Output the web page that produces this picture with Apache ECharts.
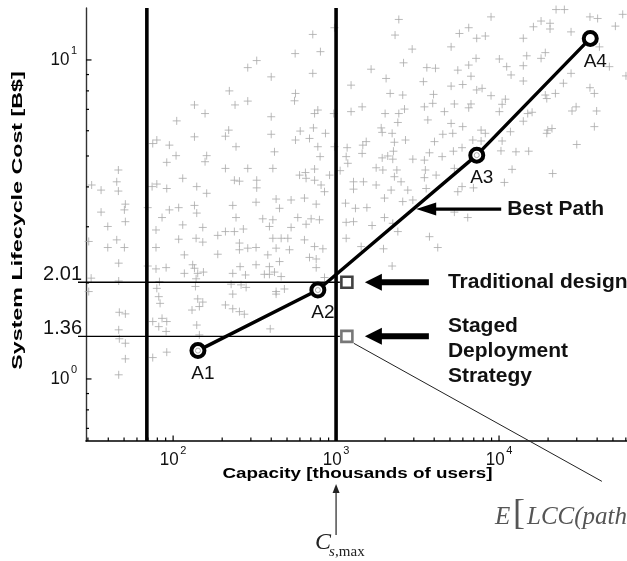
<!DOCTYPE html>
<html><head><meta charset="utf-8">
<script src="https://cdn.jsdelivr.net/npm/echarts@6/dist/echarts.min.js"></script>
<style>html,body{margin:0;padding:0;background:#fff;}#c{width:627px;height:561px;}</style>
</head><body><div id="c"></div>
<script>
// ---------------- data ----------------
const pathLabels = ['A1', 'A2', 'A3', 'A4'];
const pathCapacity = [142, 773, 7300, 36300];       // thousands of users
const pathCost = [1.227, 1.90, 5.03, 11.68];         // B$
const designLabels = ['Traditional design', 'Staged Deployment Strategy'];
const designCapacity = [1165, 1165];
const designCost = [2.01, 1.36];
const capacityLimits = [69, 1000];                   // thick vertical lines (C_s,max = 1000)
const xRange = [29.2, 61000];
const yRange = [0.639, 14.55];
const xMajorTicks = [100, 1000, 10000];
const xMajorExponents = [2, 3, 4];
const xMinorTicks = [30, 40, 50, 60, 70, 80, 90, 200, 300, 400, 500, 600, 700, 800, 900,
  2000, 3000, 4000, 5000, 6000, 7000, 8000, 9000, 20000, 30000, 40000, 50000, 60000];
const yMajorTicks = [1, 10];
const yMajorExponents = [0, 1];
const yMinorTicks = [0.7, 0.8, 0.9, 2, 3, 4, 5, 6, 7, 8, 9];
// cloud of evaluated architectures, read as [log10 capacity, log10 cost]
const cloudLog10 = [
[1.50,0.608],[1.558,0.592],[1.664,0.655],[1.654,0.618],[1.664,0.589],[1.875,0.738],[1.900,0.749],[1.977,0.733],[1.961,0.679],[2.018,0.700],[2.022,0.809],[2.131,0.859],[2.196,0.832],[2.131,0.759],[2.206,0.700],[2.196,0.681],[2.059,0.629],[1.871,0.603],[1.900,0.611],[1.961,0.597],[2.145,0.603],[2.206,0.582],[2.321,0.761],[2.341,0.780],[2.345,0.903],[2.380,0.859],[2.458,0.871],[2.458,0.976],[2.513,0.998],[2.386,0.728],[2.321,0.660],[2.458,0.660],[2.376,0.623],[2.407,0.620],[2.513,0.623],[2.513,0.599],
[2.602,0.947],[2.602,0.822],[2.602,0.767],[2.622,0.712],[2.612,0.660],[2.749,1.020],[2.857,1.080],[2.904,1.026],[2.857,0.958],[2.751,0.895],[2.745,0.872],[2.868,0.832],[2.888,0.843],[2.780,0.777],[2.861,0.787],[2.935,0.770],[2.751,0.749],[2.837,0.754],[2.888,0.728],[2.902,0.697],[2.776,0.639],[2.816,0.629],[2.868,0.658],[2.868,0.623],[2.908,0.608],[2.929,0.587],[2.960,0.639],[2.990,1.101],[2.986,0.832],[2.990,0.728],[3.025,0.653],[3.092,0.921],[3.092,0.838],[3.160,0.853],[3.068,0.725],[3.062,0.697],[3.072,0.676],[3.164,0.733],[3.185,0.744],[3.160,0.707],[3.215,0.971],[3.307,0.942],[3.385,1.127],[3.362,1.078],[3.467,1.034],[3.414,0.991],[3.332,0.895],[3.409,0.890],[3.301,0.832],[3.385,0.832],[3.420,0.846],[3.379,0.804],[3.277,0.787],[3.283,0.773],[3.344,0.770],[3.358,0.742],[3.426,0.749],[3.352,0.714],[3.283,0.693],[3.317,0.699],[3.348,0.689],[3.246,0.662],[3.287,0.655],[3.373,0.655],[3.358,0.634],[3.399,0.618],[3.471,0.689],[3.542,0.686],[3.573,0.709],[3.548,0.655],[3.542,0.631],[3.614,0.639],[3.604,0.744],[3.655,0.767],[3.651,0.697],[3.563,0.812],[3.542,0.853],[3.593,0.864],[3.598,0.892],[3.536,0.932],[3.557,0.976],[3.610,0.974],[3.665,0.838],[3.107,0.618],[3.107,0.595],[3.168,0.618],[3.246,0.608],[3.338,0.592],[3.440,0.592],[3.553,0.597],[2.812,0.647],
[3.951,1.135],[3.757,1.083],[3.814,1.101],[3.863,1.068],[3.916,1.075],[3.706,1.041],[3.859,1.005],[3.747,0.968],[3.814,0.984],[3.828,0.949],[3.706,0.918],[3.777,0.923],[3.863,0.906],[3.896,0.911],[3.951,0.888],[3.726,0.862],[3.828,0.862],[3.814,0.850],[3.706,0.801],[3.777,0.791],[3.716,0.770],[3.890,0.780],[3.916,0.770],[3.839,0.749],[3.773,0.725],[3.720,0.714],[3.890,0.746],[3.726,0.660],[3.773,0.603],[3.747,0.587],[3.843,0.599],[4.033,0.616],[4.080,0.657],[4.012,0.715],[4.104,0.712],[4.182,0.714],[4.019,0.746],[4.070,0.775],[4.002,0.838],[4.039,0.877],[4.019,0.861],[4.149,0.808],[4.203,0.836],[4.176,0.832],[4.284,0.890],[4.293,0.879],[4.346,0.895],[4.395,0.927],[4.149,0.934],[4.074,0.953],[4.047,0.979],[4.002,1.003],[4.149,0.982],[4.170,1.013],[4.149,1.068],[4.258,1.005],[4.284,1.023],[4.211,1.104],[4.258,1.122],[4.313,1.115],[4.313,1.097],[4.350,1.158],[4.401,1.158],[4.442,1.088],[4.442,0.958],[4.558,1.135],[4.605,1.130],[4.714,1.106],[4.759,1.143],[4.616,1.041],[4.677,0.979],[4.779,0.950],[4.558,0.913],[4.585,0.895],[4.599,0.840],[4.585,0.791],[4.448,0.840],[4.473,0.853],[4.477,0.735],[4.299,0.780],[4.325,0.785],[4.293,0.770],[4.329,0.644],
[1.558,0.523],[1.599,0.478],[1.707,0.548],[1.701,0.530],[1.707,0.493],[1.654,0.436],[1.599,0.412],[1.701,0.412],[1.666,0.363],[1.482,0.431],[1.497,0.316],[1.482,0.274],[1.666,0.307],[1.670,0.209],[1.707,0.204],[1.666,0.154],[1.670,0.126],[1.707,0.112],[1.707,0.063],[1.666,0.013],[1.844,0.537],[1.895,0.467],[1.932,0.506],[1.977,0.530],[2.034,0.537],[2.131,0.544],[2.145,0.520],[2.059,0.483],[2.182,0.475],[2.034,0.438],[2.141,0.441],[2.182,0.429],[1.895,0.412],[2.069,0.389],[1.844,0.354],[1.895,0.345],[1.957,0.349],[2.120,0.358],[2.131,0.347],[2.069,0.331],[2.151,0.331],[2.186,0.335],[1.916,0.305],[2.141,0.314],[2.137,0.290],[1.900,0.284],[1.912,0.258],[1.920,0.237],[2.151,0.251],[2.182,0.241],[2.161,0.227],[2.116,0.216],[1.875,0.180],[1.932,0.190],[1.961,0.180],[1.912,0.164],[1.957,0.149],[2.145,0.169],[2.161,0.138],[1.875,0.067],[1.961,0.084],[2.274,0.450],[2.321,0.462],[2.376,0.462],[2.431,0.470],[2.366,0.544],[2.386,0.506],[2.509,0.554],[2.550,0.502],[2.407,0.426],[2.407,0.405],[2.458,0.410],[2.509,0.412],[2.274,0.391],[2.411,0.352],[2.509,0.358],[2.366,0.331],[2.444,0.326],[2.560,0.328],[2.356,0.297],[2.417,0.295],[2.448,0.287],[2.366,0.266],[2.321,0.232],[2.366,0.220],[2.407,0.211],[2.437,0.203],
[2.632,0.564],[2.724,0.561],[2.806,0.567],[2.878,0.548],[2.653,0.535],[2.765,0.506],[2.847,0.502],[2.898,0.499],[2.816,0.485],[2.612,0.499],[2.591,0.478],[2.724,0.475],[2.612,0.441],[2.663,0.441],[2.704,0.441],[2.806,0.436],[2.868,0.415],[2.919,0.408],[2.632,0.410],[2.714,0.405],[2.581,0.389],[2.837,0.381],[2.878,0.376],[2.653,0.368],[2.591,0.352],[2.878,0.349],[2.622,0.335],[2.591,0.328],[2.663,0.321],[2.929,0.318],[2.632,0.274],[2.683,0.282],[2.632,0.266],[2.596,0.157],[3.058,0.551],[3.119,0.535],[3.189,0.537],[3.062,0.491],[3.107,0.493],[3.221,0.481],[3.297,0.567],[3.297,0.506],[3.348,0.488],[3.379,0.462],[3.062,0.441],[3.154,0.415],[3.291,0.408],[3.344,0.354],[3.573,0.446],[3.624,0.412],[3.409,0.556],[3.471,0.561],
[3.726,0.523],[3.808,0.506]
];
// ---------------- chart ----------------
const FONT = '"Liberation Sans", Arial, Helvetica, sans-serif';
const SERIF = '"Liberation Serif", "Times New Roman", serif';
const chart = echarts.init(document.getElementById('c'), null, {renderer: 'canvas'});

const BASE_FONT = '17px ' + FONT;
const SUP_FONT = '11px ' + FONT;
const BASE_W = 18.9, SUP_W = 6.1, GAP = 1.5;

// [value, other-axis anchor, tick length, exponent label (or -99 for none)]
const xTickData = xMajorTicks.map((v, i) => [v, yRange[0], 5.5, xMajorExponents[i]])
  .concat(xMinorTicks.map(v => [v, yRange[0], 3.5, -99]));
const yTickData = yMajorTicks.map((v, i) => [xRange[0], v, 5.5, yMajorExponents[i]])
  .concat(yMinorTicks.map(v => [xRange[0], v, 3, -99]));

function powerLabel(left, midY, e) {
  return [
    {type: 'text', x: left, y: midY, scaleY: 1.08, style: {text: '10', font: BASE_FONT, fill: '#111', align: 'left', verticalAlign: 'middle'}},
    {type: 'text', x: left + BASE_W + GAP, y: midY - 8.5, style: {text: String(e), font: SUP_FONT, fill: '#111', align: 'left', verticalAlign: 'middle'}}
  ];
}

chart.setOption({
  animation: false,
  backgroundColor: '#fff',
  grid: {left: 86, top: 8, width: 541, height: 433, containLabel: false, outerBoundsMode: 'none'},
  xAxis: {
    type: 'log', logBase: 10, min: xRange[0], max: xRange[1],
    axisLine: {onZero: false, lineStyle: {color: '#000', width: 1.6}},
    axisTick: {show: false}, splitLine: {show: false}, minorTick: {show: false},
    axisLabel: {show: false}
  },
  yAxis: {
    type: 'log', logBase: 10, min: yRange[0], max: yRange[1],
    axisLine: {onZero: false, lineStyle: {color: '#333', width: 1.4}},
    axisTick: {show: false}, splitLine: {show: false}, minorTick: {show: false},
    axisLabel: {show: false}
  },
  series: [
    {
      name: 'Architectures', type: 'scatter', z: 1, silent: true,
      data: cloudLog10.map(p => [Math.pow(10, p[0]), Math.pow(10, p[1])]),
      symbol: 'path://M0,5L10,5M5,0L5,10', symbolSize: 8,
      itemStyle: {color: 'rgba(0,0,0,0)', borderColor: '#a9a9a9', borderWidth: 1}
    },
    {
      name: 'xTicks', type: 'custom', z: 2, silent: true, clip: false,
      data: xTickData,
      renderItem: (params, api) => {
        const cs = params.coordSys;
        const x = api.coord([api.value(0), api.value(1)])[0];
        const yb = cs.y + cs.height;
        let children = [{type: 'line', shape: {x1: x, y1: yb, x2: x, y2: yb - api.value(2)},
          style: {stroke: '#000', lineWidth: 1.2}}];
        const e = api.value(3);
        if (e > -50) {
          children = children.concat(powerLabel(x - (BASE_W + GAP + SUP_W) / 2, yb + 18.5, e));
        }
        return {type: 'group', children: children};
      }
    },
    {
      name: 'yTicks', type: 'custom', z: 2, silent: true, clip: false,
      data: yTickData,
      renderItem: (params, api) => {
        const cs = params.coordSys;
        const y = api.coord([api.value(0), api.value(1)])[1];
        let children = [{type: 'line', shape: {x1: cs.x, y1: y, x2: cs.x + api.value(2), y2: y},
          style: {stroke: '#000', lineWidth: 1.2}}];
        const e = api.value(3);
        if (e > -50) {
          children = children.concat(powerLabel(cs.x - 9 - (BASE_W + GAP + SUP_W), y, e));
        }
        return {type: 'group', children: children};
      }
    },
    {
      name: 'Capacity limits', type: 'custom', z: 3, silent: true, clip: false,
      data: capacityLimits.map(v => [v, yRange[0]]),
      renderItem: (params, api) => {
        const cs = params.coordSys;
        const x = api.coord([api.value(0), api.value(1)])[0];
        return {type: 'line', shape: {x1: x, y1: cs.y, x2: x, y2: cs.y + cs.height},
          style: {stroke: '#000', lineWidth: 3.6}};
      }
    },
    {
      name: 'Cost levels', type: 'custom', z: 3, silent: true, clip: false,
      data: designCapacity.map((c, i) => [c, designCost[i]]),
      renderItem: (params, api) => {
        const cs = params.coordSys;
        const p = api.coord([api.value(0), api.value(1)]);
        return {type: 'group', children: [
          {type: 'line', shape: {x1: cs.x - 8, y1: p[1], x2: p[0] - 7, y2: p[1]},
            style: {stroke: '#000', lineWidth: 1.3}},
          {type: 'text', x: cs.x - 4, y: p[1] + 2,
            style: {text: api.value(1).toFixed(2), align: 'right', verticalAlign: 'bottom',
              font: '20px ' + FONT, fill: '#111'}}
        ]};
      }
    },
    {
      name: 'Best Path', type: 'line', z: 5, silent: true,
      data: pathCapacity.map((c, i) => [c, pathCost[i]]),
      lineStyle: {color: '#000', width: 3.4},
      symbol: 'circle', symbolSize: 13, showAllSymbol: true,
      itemStyle: {color: '#fff', borderColor: '#000', borderWidth: 4},
      label: {show: true, position: 'bottom', distance: 5, offset: [5, 0],
        formatter: p => pathLabels[p.dataIndex], fontSize: 19, fontFamily: FONT, color: '#111'}
    },
    {
      name: 'Inner rings', type: 'scatter', z: 6, silent: true,
      data: pathCapacity.slice(0, 3).map((c, i) => [c, pathCost[i]]),
      symbol: 'circle', symbolSize: 5,
      itemStyle: {color: 'rgba(0,0,0,0)', borderColor: '#9a9a9a', borderWidth: 1}
    },
    {
      name: 'Designs', type: 'scatter', z: 6, silent: true,
      data: designCapacity.map((c, i) => ({value: [c, designCost[i]],
        itemStyle: {borderColor: i === 0 ? '#111' : '#555'}})),
      symbol: 'rect', symbolSize: 11,
      itemStyle: {color: 'rgba(0,0,0,0)', borderWidth: 2.6}
    }
  ]
});

// ---------------- annotations placed from data positions ----------------
const P = (x, y) => chart.convertToPixel({xAxisIndex: 0, yAxisIndex: 0}, [x, y]);
const trad = P(designCapacity[0], designCost[0]);
const staged = P(designCapacity[1], designCost[1]);
const a2 = P(pathCapacity[1], pathCost[1]);
const a3 = P(pathCapacity[2], pathCost[2]);
const bp = [a2[0] + 0.6 * (a3[0] - a2[0]) + 3, a2[1] + 0.6 * (a3[1] - a2[1])];
const cx = P(capacityLimits[1], 1)[0];

function bigArrow(tipX, y) {
  return [
    {type: 'rect', shape: {x: tipX + 14, y: y - 3, width: 50, height: 6}, style: {fill: '#000'}},
    {type: 'polygon', shape: {points: [[tipX, y], [tipX + 17, y - 8.5], [tipX + 17, y + 8.5]]}, style: {fill: '#000'}}
  ];
}
const tipX = trad[0] + 18;
const g = [];
g.push(...bigArrow(tipX, trad[1]));
g.push(...bigArrow(tipX, staged[1]));
g.push({type: 'rect', shape: {x: bp[0] + 18, y: bp[1] - 1.6, width: 67, height: 3.2}, style: {fill: '#000'}});
g.push({type: 'polygon', shape: {points: [[bp[0], bp[1]], [bp[0] + 20, bp[1] - 6.5], [bp[0] + 20, bp[1] + 6.5]]}, style: {fill: '#000'}});
g.push({type: 'text', x: bp[0] + 91, y: bp[1], style: {text: 'Best Path', font: 'bold 21px ' + FONT, fill: '#111', align: 'left', verticalAlign: 'middle'}});
g.push({type: 'text', x: tipX + 83, y: trad[1], style: {text: designLabels[0], font: 'bold 21px ' + FONT, fill: '#111', align: 'left', verticalAlign: 'middle'}});
g.push({type: 'text', x: tipX + 83, y: staged[1] + 14.5, style: {text: designLabels[1].split(' ').join('\n'), font: 'bold 21px ' + FONT, lineHeight: 25, fill: '#111', align: 'left', verticalAlign: 'middle'}});
// leader line to expected-cost expression
g.push({type: 'line', shape: {x1: staged[0] + 7, y1: staged[1] + 7, x2: staged[0] + 255, y2: staged[1] + 145}, style: {stroke: '#222', lineWidth: 1}});
g.push({type: 'text', x: 495, y: 517, style: {text: 'E', font: 'italic 25px ' + SERIF, fill: '#555', align: 'left', verticalAlign: 'middle'}});
g.push({type: 'text', x: 513, y: 515, style: {text: '[', font: '36px ' + SERIF, fill: '#555', align: 'left', verticalAlign: 'middle'}});
g.push({type: 'text', x: 527, y: 517, style: {text: 'LCC(path', font: 'italic 25px ' + SERIF, fill: '#555', align: 'left', verticalAlign: 'middle'}});
// axis titles
g.push({type: 'text', x: 357.5, y: 474, scaleX: 1.256, style: {text: 'Capacity [thousands of users]', font: 'bold 15px ' + FONT, fill: '#000', align: 'center', verticalAlign: 'middle'}});
g.push({type: 'text', x: 17.5, y: 220.5, rotation: Math.PI / 2, scaleX: 1.55, style: {text: 'System Lifecycle Cost [B$]', font: 'bold 15px ' + FONT, fill: '#000', align: 'center', verticalAlign: 'middle'}});
// C_s,max marker
g.push({type: 'line', shape: {x1: cx, y1: 535, x2: cx, y2: 491}, style: {stroke: '#333', lineWidth: 1.3}});
g.push({type: 'polygon', shape: {points: [[cx, 484], [cx - 3.5, 493], [cx + 3.5, 493]]}, style: {fill: '#222'}});
g.push({type: 'text', x: cx - 21, y: 543, style: {text: 'C', font: 'italic 24px ' + SERIF, fill: '#222', align: 'left', verticalAlign: 'middle'}});
g.push({type: 'text', x: cx - 7, y: 552, style: {text: 's', font: 'italic 15px ' + SERIF, fill: '#222', align: 'left', verticalAlign: 'middle'}});
g.push({type: 'text', x: cx - 1, y: 552, style: {text: ',max', font: '15px ' + SERIF, fill: '#222', align: 'left', verticalAlign: 'middle'}});

chart.setOption({graphic: {elements: g.map(e => Object.assign({silent: true, z: 100}, e))}});
</script>
</body></html>
